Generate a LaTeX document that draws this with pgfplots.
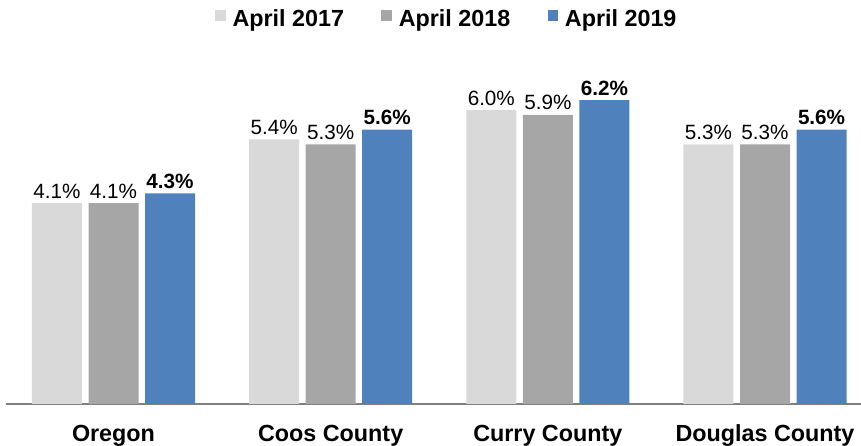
\documentclass[border=0pt]{standalone}
\usepackage{fontspec}
\setmainfont{Liberation Sans}
\usepackage{pgfplots}
\pgfplotsset{compat=1.18}
\definecolor{c17}{HTML}{D9D9D9}
\definecolor{c18}{HTML}{A6A6A6}
\definecolor{c19}{HTML}{4F81BD}
\begin{document}
\begin{tikzpicture}
\useasboundingbox (-4.5pt,-31.5pt) rectangle (641.25pt,303pt);
\begin{axis}[
  at={(0pt,0pt)}, anchor=south west,
  scale only axis, width=641.25pt, height=257.25pt,
  ymin=0, ymax=7, xmin=-0.495, xmax=3.442,
  axis x line=bottom, axis y line=none,
  x axis line style={-, draw=gray, line width=1.5pt},
  xtick={0,1,2,3}, xtick style={draw=none},
  xticklabels={Oregon,Coos County,Curry County,Douglas County},
  xticklabel style={font=\bfseries\fontsize{17.5}{17.5}\selectfont, yshift=-8pt},
  ytick=\empty,
  ybar=4.9pt, bar width=37.5pt,
  enlarge x limits=false,
  nodes near coords={\pgfmathprintnumber[fixed,fixed zerofill,precision=1,assume math mode=true]{\pgfplotspointmeta}\%},
  every node near coord/.append style={font=\fontsize{15.5}{15.5}\selectfont, text=black},
  legend style={at={(0.516,1.122)}, anchor=center, draw=none, fill=none,
    legend columns=3, font=\bfseries\fontsize{17.5}{17.5}\selectfont,
    /tikz/every odd column/.append style={column sep=3pt},
    /tikz/every even column/.append style={column sep=26pt}},
  legend image code/.code={\fill[#1] (0pt,-1.5pt) rectangle (8pt,6.5pt);},
  clip=false,
]
\addplot[fill=c17, draw=none] coordinates {(0,4.1) (1,5.4) (2,6.0) (3,5.3)};
\addplot[fill=c18, draw=none] coordinates {(0,4.1) (1,5.3) (2,5.9) (3,5.3)};
\addplot[fill=c19, draw=none, every node near coord/.append style={font=\bfseries\fontsize{15.5}{15.5}\selectfont}] coordinates {(0,4.3) (1,5.6) (2,6.2) (3,5.6)};
\legend{April 2017,April 2018,April 2019}
\end{axis}
\end{tikzpicture}
\end{document}
